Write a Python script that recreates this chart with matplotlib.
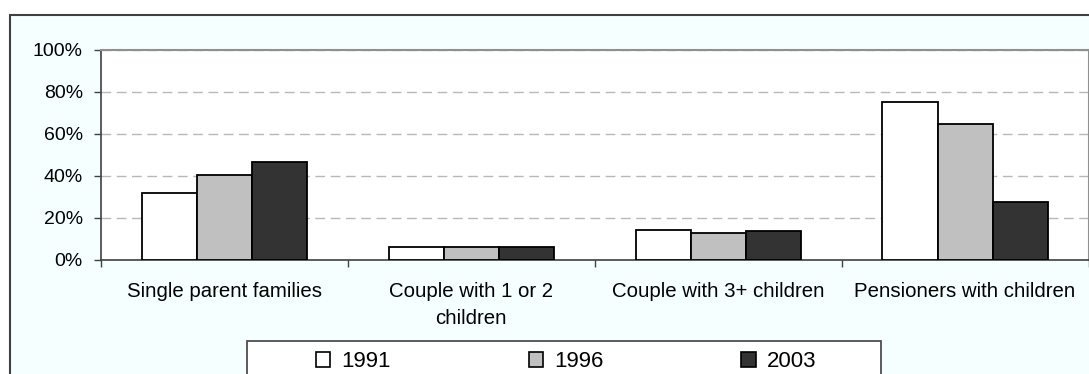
import numpy as np
import matplotlib
matplotlib.use('Agg')
from matplotlib import pyplot as plt
from matplotlib.patches import Rectangle, Patch
from matplotlib.ticker import FixedLocator, PercentFormatter

plt.rcParams['font.family'] = ['Liberation Sans', 'DejaVu Sans']

# share of each household type, per survey year (percent)
categories = ['Single parent families', 'Couple with 1 or 2\nchildren',
              'Couple with 3+ children', 'Pensioners with children']
years = ['1991', '1996', '2003']
share_1991 = [32, 6, 14.4, 75.4]
share_1996 = [40.6, 6, 12.9, 64.8]
share_2003 = [46.5, 6, 14, 27.6]
bar_colors = ['#FFFFFF', '#C0C0C0', '#333333']

W, H = 1089, 374
fig = plt.figure(figsize=(W / 100, H / 100), dpi=100)
fig.patch.set_facecolor('white')

# chart area frame (runs off the right and bottom edges)
fig.patches.append(Rectangle((10 / W, -0.1), 1.2, 1 - 15 / H + 0.1,
                             transform=fig.transFigure, facecolor='#F5FFFF',
                             edgecolor='#404040', linewidth=1.5, zorder=-5))

ax = fig.add_axes([101 / W, 1 - 260 / H, 987.5 / W, 210 / H])
ax.set_facecolor('white')

x = np.arange(len(categories))
width = 0.223
for i, (vals, col, yr) in enumerate(zip([share_1991, share_1996, share_2003], bar_colors, years)):
    ax.bar(x + (i - 1) * width, vals, width, color=col, edgecolor='black',
           linewidth=1.3, label=yr, zorder=3)

ax.set_xlim(-0.5, len(categories) - 0.5)
ax.set_ylim(0, 100)
ax.set_yticks(np.arange(0, 101, 20))
ax.yaxis.set_major_formatter(PercentFormatter(decimals=0))
ax.yaxis.grid(True, linestyle=(0, (7, 4)), color='#B8B8B8', linewidth=1, zorder=0)

ax.set_xticks(x)
ax.set_xticklabels(categories, fontsize=14.7)
for lbl in ax.get_xticklabels():
    lbl.set_linespacing(1.55)
ax.xaxis.set_minor_locator(FixedLocator(np.arange(-0.5, len(categories), 1)))
ax.tick_params(axis='x', which='major', length=0, pad=16)
ax.tick_params(axis='x', which='minor', length=5, width=1, color='#404040')
ax.tick_params(axis='y', length=5, width=1, color='#404040', labelsize=14, pad=8)

for side in ['top', 'right']:
    ax.spines[side].set_color('#909090')
    ax.spines[side].set_linewidth(1.5)
for side in ['left', 'bottom']:
    ax.spines[side].set_color('#404040')
    ax.spines[side].set_linewidth(1.2)

# legend in a box at the bottom
fig.patches.append(Rectangle((247 / W, -0.1), 634 / W, 1 - 341 / H + 0.1,
                             transform=fig.transFigure, facecolor='white',
                             edgecolor='#404040', linewidth=1.2, zorder=1))
handles = [Patch(facecolor=c, edgecolor='black', linewidth=1.2) for c in bar_colors]
fig.legend(handles, years, loc='upper center', bbox_to_anchor=(566 / W, 1 - 341 / H),
           ncol=3, frameon=False, fontsize=16, handlelength=0.65, handleheight=0.65,
           handletextpad=0.5, columnspacing=6.2, borderaxespad=0, borderpad=0.45)

plt.savefig('out.png', dpi=100)
